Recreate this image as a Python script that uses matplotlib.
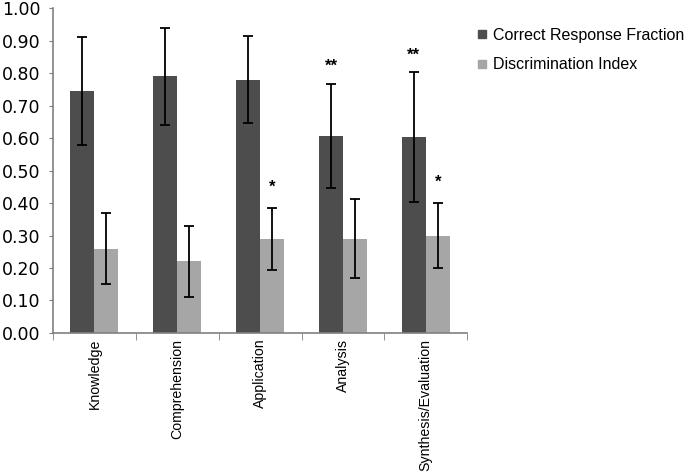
import matplotlib
matplotlib.use("Agg")
import matplotlib.pyplot as plt
import numpy as np
from matplotlib.lines import Line2D

categories = ["Knowledge", "Comprehension", "Application", "Analysis", "Synthesis/Evaluation"]
correct = [0.745, 0.79, 0.78, 0.607, 0.603]
correct_err = [0.165, 0.15, 0.135, 0.16, 0.20]
discrim = [0.26, 0.22, 0.29, 0.29, 0.30]
discrim_err = [0.11, 0.11, 0.095, 0.122, 0.10]
correct_sig = ["", "", "", "**", "**"]
discrim_sig = ["", "", "*", "", "*"]
yticks = [0.0, 0.1, 0.2, 0.3, 0.4, 0.5, 0.6, 0.7, 0.8, 0.9, 1.0]

dark = "#4d4d4d"
light = "#a6a6a6"

fig = plt.figure(figsize=(6.87, 4.75), dpi=100)
ax = fig.add_axes([0.0771, 0.299, 0.603, 0.684])

x = np.arange(len(categories))
w = 0.29
ax.bar(x - w / 2, correct, w, color=dark, zorder=2)
ax.bar(x + w / 2, discrim, w, color=light, zorder=2)
ax.errorbar(x - w / 2, correct, yerr=correct_err, fmt="none", ecolor="black",
            elinewidth=1.3, capsize=3.5, capthick=1.3, zorder=3)
ax.errorbar(x + w / 2, discrim, yerr=discrim_err, fmt="none", ecolor="black",
            elinewidth=1.3, capsize=3.5, capthick=1.3, zorder=3)

for i, s in enumerate(correct_sig):
    if s:
        ax.text(x[i] - w / 2, correct[i] + correct_err[i] + 0.03, s, ha="center",
                va="bottom", fontsize=12, fontweight="bold", family="Liberation Sans")
for i, s in enumerate(discrim_sig):
    if s:
        ax.text(x[i] + w / 2, discrim[i] + discrim_err[i] + 0.04, s, ha="center",
                va="bottom", fontsize=12, fontweight="bold", family="Liberation Sans")

ax.set_xlim(-0.5, len(categories) - 0.5)
ax.set_ylim(0, 1.0)
ax.set_yticks(yticks)
ax.set_yticklabels([f"{v:.2f}" for v in yticks], fontsize=12.5, family="DejaVu Sans")
ax.set_xticks(x)
ax.set_xticklabels(categories, rotation=90, fontsize=10.2, family="Liberation Sans")
ax.tick_params(axis="x", length=0, pad=4)
ax.set_xticks(np.arange(-0.5, len(categories)), minor=True)
ax.tick_params(axis="x", which="minor", length=5, color="#808080", direction="out")
ax.tick_params(axis="y", length=3, color="#808080", direction="out", pad=6)

for side in ["top", "right"]:
    ax.spines[side].set_visible(False)
for side in ["left", "bottom"]:
    ax.spines[side].set_color("#808080")
    ax.spines[side].set_linewidth(1.2)

handles = [Line2D([], [], marker="s", color="none", markerfacecolor=dark, markeredgecolor=dark, markersize=6),
           Line2D([], [], marker="s", color="none", markerfacecolor=light, markeredgecolor=light, markersize=6)]
fig.legend(handles, ["Correct Response Fraction", "Discrimination Index"],
           loc="upper left", bbox_to_anchor=(0.685, 0.955), frameon=False,
           prop={"family": "Liberation Sans", "size": 11.5}, handlelength=0.6,
           handletextpad=0.4, labelspacing=0.9, borderaxespad=0)

fig.savefig("out.png", dpi=100)
